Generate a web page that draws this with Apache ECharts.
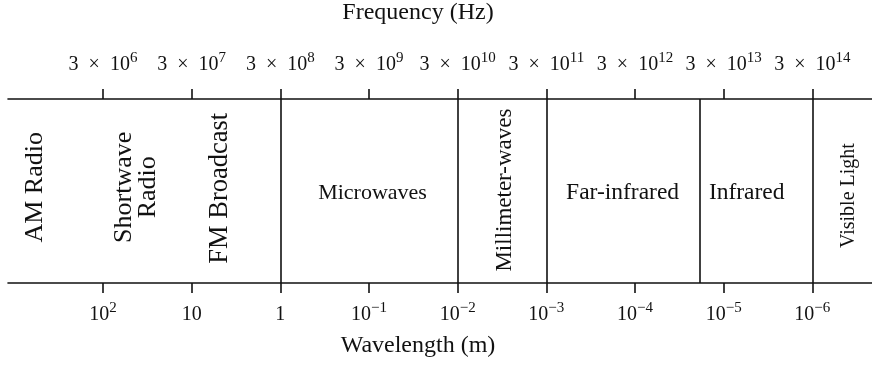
<!DOCTYPE html>
<html>
<head>
<meta charset="utf-8">
<script src="https://cdn.jsdelivr.net/npm/echarts@6/dist/echarts.min.js"></script>
<style>
    html, body { margin: 0; padding: 0; background: #fff; }
    #spectrum { width: 872px; height: 366px; }
</style>
</head>
<body>
<div id="spectrum"></div>
<script>
    // frequency ticks: 3 x 10^n Hz
    var freqExp = [6, 7, 8, 9, 10, 11, 12, 13, 14];
    // wavelength at the same ticks: 10^k m
    var waveExp = [2, 1, 0, -1, -2, -3, -4, -5, -6];
    // band boundaries (in n of 3 x 10^n Hz)
    var bandEdges = [8, 10, 11, 12.73, 14];
    // band names and where their labels sit
    var bandNames = ['AM Radio', 'Shortwave\nRadio', 'FM Broadcast', 'Microwaves',
        'Millimeter-waves', 'Far-infrared', 'Infrared', 'Visible Light'];
    var bandLabelX = [5.24, 6.37, 7.32, 9.04, 10.53, 11.86, 13.26, 14.41];
    var bandLabelY = [0.52, 0.52, 0.515, 0.49, 0.505, 0.49, 0.49, 0.475];

    var axisMin = 4.9285, axisMax = 14.673;
    var ink = '#111';
    var serif = '"Liberation Serif", "Times New Roman", serif';

    // 标签样式：竖排 / 横排 与字号
    var labelLook = {
        'AM Radio': {rotate: 90, size: 26},
        'Shortwave\nRadio': {rotate: 90, size: 26},
        'FM Broadcast': {rotate: 90, size: 26.5},
        'Microwaves': {rotate: 0, size: 22},
        'Millimeter-waves': {rotate: 90, size: 23},
        'Far-infrared': {rotate: 0, size: 23.5},
        'Infrared': {rotate: 0, size: 23.5},
        'Visible Light': {rotate: 90, size: 20}
    };

    var rich = {
        b: {fontFamily: serif, fontSize: 20, lineHeight: 24, color: ink, verticalAlign: 'bottom'},
        s: {fontFamily: serif, fontSize: 15, lineHeight: 24, color: ink, verticalAlign: 'top'}
    };

    function freqLabel(v) {
        var i = freqExp.indexOf(Math.round(v));
        if (i < 0) return '';
        return '{b|3  \u00d7  10}{s|' + freqExp[i] + '}';
    }

    function waveLabel(v) {
        var i = freqExp.indexOf(Math.round(v));
        if (i < 0) return '';
        var k = waveExp[i];
        if (k === 0) return '{b|1}';
        if (k === 1) return '{b|10}';
        return '{b|10}{s|' + String(k).replace('-', '\u2212') + '}';
    }

    var labelData = [];
    for (var i = 0; i < bandNames.length; i++) {
        var look = labelLook[bandNames[i]];
        labelData.push({
            name: bandNames[i],
            value: [bandLabelX[i], bandLabelY[i]],
            label: {rotate: look.rotate, fontSize: look.size, lineHeight: 24}
        });
    }

    var chart = echarts.init(document.getElementById('spectrum'), null, {renderer: 'canvas'});
    chart.setOption({
        animation: false,
        backgroundColor: '#fff',
        grid: {left: 8, right: 0, top: 99, bottom: 83},
        graphic: [
            {
                type: 'text', x: 418, y: 12.9,
                style: {
                    text: 'Frequency (Hz)', font: '24px ' + serif, fill: ink,
                    textAlign: 'center', textVerticalAlign: 'middle',
                    align: 'center', verticalAlign: 'middle'
                }
            },
            {
                type: 'text', x: 418, y: 346,
                style: {
                    text: 'Wavelength (m)', font: '24px ' + serif, fill: ink,
                    textAlign: 'center', textVerticalAlign: 'middle',
                    align: 'center', verticalAlign: 'middle'
                }
            }
        ],
        xAxis: [
            {
                type: 'value', position: 'top', min: axisMin, max: axisMax,
                axisLine: {show: true, onZero: false, lineStyle: {color: ink, width: 1.6}},
                axisTick: {show: true, length: 10, customValues: freqExp, lineStyle: {color: ink, width: 1.6}},
                axisLabel: {margin: 24, customValues: freqExp, formatter: freqLabel, rich: rich},
                splitLine: {show: false}
            },
            {
                type: 'value', position: 'bottom', min: axisMin, max: axisMax,
                axisLine: {show: true, onZero: false, lineStyle: {color: ink, width: 1.6}},
                axisTick: {show: true, length: 10, customValues: freqExp, lineStyle: {color: ink, width: 1.6}},
                axisLabel: {margin: 18, customValues: freqExp, formatter: waveLabel, rich: rich},
                splitLine: {show: false}
            }
        ],
        yAxis: {type: 'value', min: 0, max: 1, show: false},
        series: [
            {
                type: 'scatter',
                xAxisIndex: 1,
                symbolSize: 0,
                silent: true,
                itemStyle: {opacity: 1},
                data: labelData,
                label: {
                    show: true,
                    position: 'inside',
                    formatter: '{b}',
                    fontFamily: serif,
                    color: ink,
                    opacity: 1
                },
                markLine: {
                    silent: true,
                    symbol: ['none', 'none'],
                    label: {show: false},
                    lineStyle: {color: ink, width: 1.6, type: 'solid', opacity: 1},
                    data: bandEdges.map(function (e) { return {xAxis: e}; })
                }
            }
        ]
    });
</script>
</body>
</html>
